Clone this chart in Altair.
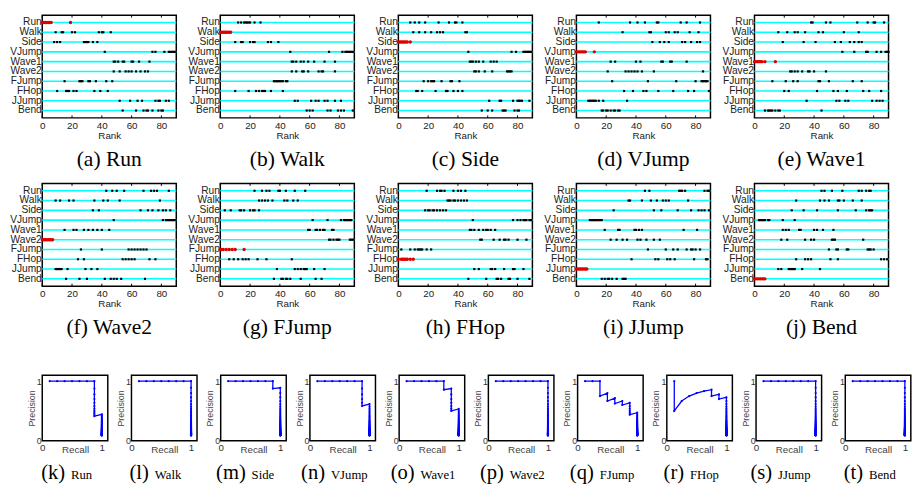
import altair as alt
import pandas as pd

CATS = ["Run", "Walk", "Side", "VJump", "Wave1", "Wave2", "FJump", "FHop", "JJump", "Bend"]
TOP_TAGS = ["(a)", "(b)", "(c)", "(d)", "(e)", "(f)", "(g)", "(h)", "(i)", "(j)"]
PR_TAGS = ["(k)", "(l)", "(m)", "(n)", "(o)", "(p)", "(q)", "(r)", "(s)", "(t)"]
X_TICKS = [0, 20, 40, 60, 80]
PR_TICKS = [0, 1]
N_RETRIEVED = 89
N_RELEVANT = 8

# rank positions per category row (Run .. Bend) for each query class
RANK_RUN = [
    [0, 1, 2, 3, 4, 5, 6, 19],
    [9, 13, 14, 20, 22, 38, 40, 41, 46],
    [8, 10, 12, 28, 29, 30, 31, 34, 37],
    [42, 74, 76, 82, 85, 86, 87, 88, 89],
    [48, 49, 51, 54, 55, 60, 61, 65, 72],
    [48, 52, 56, 58, 60, 63, 66, 69, 71],
    [15, 25, 26, 27, 31, 32, 36, 43, 47],
    [10, 16, 17, 18, 21, 23, 35, 39, 44],
    [52, 59, 64, 67, 76, 78, 79, 83, 85],
    [54, 63, 68, 70, 71, 74, 78, 80, 81],
]
RANK_WALK = [
    [12, 14, 16, 17, 18, 19, 20, 23, 27],
    [0, 1, 2, 3, 4, 5, 6, 7],
    [10, 14, 15, 20, 22, 23, 32, 34, 39],
    [47, 73, 82, 84, 85, 86, 87, 88, 89],
    [48, 49, 51, 54, 56, 59, 63, 70, 77],
    [48, 51, 55, 56, 59, 66, 68, 69, 77],
    [36, 37, 38, 39, 40, 41, 42, 44, 45],
    [10, 19, 24, 26, 28, 29, 30, 34, 42],
    [50, 52, 61, 64, 66, 70, 72, 77, 81],
    [58, 60, 62, 72, 74, 79, 81, 83, 89],
]
RANK_SIDE = [
    [8, 11, 14, 18, 27, 34, 38, 39, 43],
    [10, 14, 18, 22, 26, 28, 30, 45, 46],
    [0, 1, 2, 3, 4, 5, 6, 8],
    [47, 76, 79, 84, 85, 86, 87, 88, 89],
    [48, 49, 50, 52, 54, 57, 62, 64, 66],
    [51, 52, 54, 58, 63, 73, 74, 75, 76],
    [17, 20, 22, 23, 24, 29, 35, 36, 41],
    [12, 13, 16, 25, 32, 33, 37, 40, 43],
    [61, 68, 69, 77, 80, 81, 82, 83, 88],
    [56, 60, 63, 70, 71, 72, 78, 80, 81],
]
RANK_VJUMP = [
    [15, 36, 41, 46, 54, 55, 70, 74, 83],
    [31, 49, 50, 60, 62, 66, 68, 76, 82],
    [51, 56, 59, 62, 71, 73, 77, 81, 83],
    [0, 1, 2, 3, 4, 5, 6, 12],
    [23, 26, 40, 43, 57, 58, 63, 64, 74],
    [21, 33, 35, 37, 39, 41, 44, 52, 85],
    [24, 48, 67, 80, 84, 85, 86, 87, 88],
    [32, 38, 45, 47, 55, 65, 75, 79, 89],
    [8, 9, 10, 11, 12, 13, 15, 18, 34],
    [17, 18, 20, 21, 23, 25, 26, 28, 29],
]
RANK_WAVE1 = [
    [38, 39, 48, 51, 69, 76, 80, 81, 87],
    [16, 22, 27, 29, 34, 43, 46, 60, 70],
    [19, 33, 41, 54, 58, 64, 67, 70, 72],
    [59, 67, 75, 76, 82, 85, 88, 89, 90],
    [0, 1, 2, 3, 4, 5, 7, 14],
    [24, 25, 27, 29, 32, 36, 37, 40, 48],
    [12, 21, 26, 29, 43, 44, 50, 66, 72],
    [20, 23, 42, 53, 56, 62, 73, 77, 85],
    [35, 55, 57, 61, 63, 79, 82, 84, 86],
    [7, 9, 10, 11, 12, 14, 16, 17, 45],
]
RANK_WAVE2 = [
    [43, 47, 50, 55, 68, 73, 75, 77, 85],
    [9, 12, 18, 21, 35, 41, 44, 52, 79],
    [34, 38, 66, 71, 74, 78, 81, 83, 86],
    [48, 81, 83, 84, 85, 86, 87, 88, 89],
    [15, 21, 23, 28, 31, 34, 37, 40, 45],
    [0, 1, 2, 3, 4, 5, 6, 7],
    [26, 40, 58, 60, 62, 64, 66, 68, 70],
    [24, 28, 54, 56, 58, 60, 62, 72, 76],
    [9, 10, 11, 12, 13, 17, 29, 33, 37],
    [16, 25, 30, 42, 46, 48, 50, 53, 69],
]
RANK_FJUMP = [
    [23, 28, 31, 33, 39, 40, 44, 50, 57],
    [26, 28, 30, 32, 35, 43, 45, 49, 52],
    [3, 7, 13, 14, 16, 20, 22, 23, 26],
    [62, 72, 81, 83, 84, 85, 86, 87, 88],
    [59, 60, 64, 65, 67, 69, 70, 75, 76],
    [73, 74, 76, 78, 79, 80, 87, 88, 89],
    [0, 1, 2, 4, 6, 8, 10, 16],
    [6, 9, 12, 15, 17, 19, 25, 31, 48],
    [38, 50, 52, 54, 56, 57, 58, 63, 70],
    [36, 41, 42, 44, 45, 47, 54, 64, 68],
]
RANK_FHOP = [
    [19, 26, 28, 29, 31, 37, 40, 42, 45],
    [33, 34, 35, 37, 38, 40, 42, 44, 46],
    [18, 20, 21, 23, 24, 26, 28, 30, 32],
    [50, 77, 80, 82, 84, 85, 86, 88, 89],
    [48, 49, 51, 54, 57, 59, 60, 62, 65],
    [55, 56, 64, 68, 71, 72, 74, 80, 86],
    [2, 8, 11, 13, 14, 15, 16, 19, 22],
    [0, 2, 3, 4, 5, 6, 8, 10],
    [51, 54, 62, 63, 65, 71, 77, 78, 84],
    [47, 59, 66, 67, 69, 74, 75, 80, 88],
]
RANK_JJUMP = [
    [46, 49, 69, 70, 71, 73, 86, 88, 89],
    [35, 36, 44, 50, 54, 58, 60, 62, 75],
    [25, 52, 57, 68, 77, 82, 84, 86, 89],
    [9, 10, 11, 12, 13, 14, 15, 16, 17],
    [19, 28, 29, 39, 40, 42, 44, 72, 81],
    [23, 27, 31, 34, 41, 43, 47, 52, 56],
    [48, 60, 65, 68, 74, 77, 78, 80, 83],
    [37, 53, 55, 61, 63, 66, 79, 87, 88],
    [0, 1, 2, 3, 4, 5, 6, 7],
    [17, 19, 21, 22, 24, 27, 31, 32, 33],
]
RANK_BEND = [
    [45, 47, 52, 59, 70, 72, 75, 77, 78],
    [28, 44, 47, 50, 56, 57, 60, 66, 72],
    [25, 33, 42, 56, 68, 75, 77, 78, 79],
    [3, 4, 5, 6, 7, 9, 10, 19, 27],
    [19, 21, 23, 30, 31, 40, 42, 46, 53],
    [18, 22, 34, 38, 40, 52, 53, 54, 73],
    [50, 55, 56, 62, 63, 76, 77, 78, 80],
    [28, 34, 36, 38, 51, 56, 85, 87, 89],
    [16, 18, 23, 24, 25, 26, 27, 32, 44],
    [0, 1, 2, 3, 4, 5, 6, 7],
]
RANK_PANELS = [RANK_RUN, RANK_WALK, RANK_SIDE, RANK_VJUMP, RANK_WAVE1,
               RANK_WAVE2, RANK_FJUMP, RANK_FHOP, RANK_JJUMP, RANK_BEND]

# ranks (1-based) at which a relevant item is retrieved, per query class
HITS_RUN = [1, 2, 3, 4, 5, 6, 7, 18]
HITS_WALK = [1, 2, 3, 4, 5, 6, 7, 8]
HITS_SIDE = [1, 2, 3, 4, 5, 6, 7, 9]
HITS_VJUMP = [1, 2, 3, 4, 5, 6, 7, 13]
HITS_WAVE1 = [1, 2, 3, 4, 5, 6, 8, 15]
HITS_WAVE2 = [1, 2, 3, 4, 5, 6, 7, 8]
HITS_FJUMP = [1, 2, 3, 5, 7, 9, 11, 17]
HITS_FHOP = [1, 3, 4, 5, 6, 7, 9, 11]
HITS_JJUMP = [1, 2, 3, 4, 5, 6, 7, 8]
HITS_BEND = [1, 2, 3, 4, 5, 6, 7, 8]
PR_HITS = [HITS_RUN, HITS_WALK, HITS_SIDE, HITS_VJUMP, HITS_WAVE1,
           HITS_WAVE2, HITS_FJUMP, HITS_FHOP, HITS_JJUMP, HITS_BEND]

SANS = "Liberation Sans"
SERIF = "Liberation Serif"
RW, RH = 137, 105
PW, PH = 67, 67

# Times / Liberation Serif advance widths (per 1000 em) for caption layout
TIMES_W = {" ": 250, "(": 333, ")": 333, "a": 444, "b": 500, "c": 444, "d": 500, "e": 444,
           "f": 333, "g": 500, "h": 500, "i": 278, "j": 278, "k": 500, "l": 278, "m": 778,
           "n": 500, "o": 500, "p": 500, "q": 500, "r": 333, "s": 389, "t": 278, "u": 500,
           "v": 500, "w": 722, "R": 667, "W": 944, "S": 556, "V": 722, "J": 389, "F": 556,
           "H": 722, "B": 667, "1": 500, "2": 500}


def tw(s, size):
    return sum(TIMES_W.get(c, 500) for c in s) * size / 1000.0


def rank_panel(i):
    recs = []
    for ci, ranks in enumerate(RANK_PANELS[i]):
        for r in ranks:
            recs.append({"cat": CATS[ci], "rank": r, "isq": ci == i})
    df = pd.DataFrame(recs)
    xs = alt.Scale(domain=[0, 90], nice=False, zero=False)
    ys = alt.Scale(domain=CATS, padding=0.5)
    xax = alt.Axis(values=X_TICKS, title="Rank", ticks=False, domain=False, grid=False,
                   labelFont=SANS, labelFontSize=10, labelColor="#222", labelPadding=3,
                   labelFlush=False,
                   titleFont=SANS, titleFontSize=10, titleFontWeight="normal", titleColor="#222",
                   titleY=13, titleBaseline="top")
    yax = alt.Axis(title=None, ticks=False, domain=False, grid=False,
                   labelFont=SANS, labelFontSize=10.4, labelColor="#222", labelPadding=1)
    Y = alt.Y("cat:N", scale=ys, sort=CATS, axis=yax)
    lines = alt.Chart(pd.DataFrame({"cat": CATS})).mark_rule(
        color="#00ffff", strokeWidth=1.6).encode(y=Y)
    tdf = pd.DataFrame({"t": X_TICKS})
    ticks_top = alt.Chart(tdf).mark_rule(color="black", strokeWidth=1).encode(
        x=alt.X("t:Q", scale=xs, axis=xax), y=alt.value(0), y2=alt.value(2.5))
    ticks_bot = alt.Chart(tdf).mark_rule(color="black", strokeWidth=1).encode(
        x=alt.X("t:Q", scale=xs, axis=xax), y=alt.value(RH - 2.5), y2=alt.value(RH))
    black = alt.Chart(df[~df["isq"]]).mark_square(size=5, color="black", opacity=1).encode(
        x=alt.X("rank:Q", scale=xs, axis=xax), y=Y)
    red = alt.Chart(df[df["isq"]]).mark_circle(size=12, color="#e00000", opacity=1).encode(
        x=alt.X("rank:Q", scale=xs, axis=xax), y=Y)
    return alt.layer(lines, ticks_top, ticks_bot, black, red).properties(
        width=RW, height=RH,
        title=alt.TitleParams(text=f"{TOP_TAGS[i]} {CATS[i]}", orient="bottom", font=SERIF,
                              fontSize=22, fontWeight="normal", color="black", offset=9,
                              baseline="top"))


def pr_panel(i):
    hits = set(PR_HITS[i])
    recs = []
    h = 0
    for r in range(1, N_RETRIEVED + 1):
        if r in hits:
            h += 1
        recs.append({"r": r, "recall": h / N_RELEVANT, "precision": h / r})
    df = pd.DataFrame(recs)
    sc = alt.Scale(domain=[0, 1.1], nice=False, zero=False)
    xax = alt.Axis(values=PR_TICKS, format="d", title="Recall", ticks=False, domain=False,
                   grid=False, labelFont=SANS, labelFontSize=10, labelColor="#333",
                   labelPadding=2, labelFlush=False,
                   titleFont=SANS, titleFontSize=10, titleFontWeight="normal", titleColor="#444",
                   titleY=4, titleBaseline="top")
    yax = alt.Axis(values=PR_TICKS, format="d", title="Precision", ticks=False, domain=False,
                   grid=False, labelFont=SANS, labelFontSize=9, labelColor="#333",
                   labelPadding=1, labelFlush=False,
                   titleFont=SANS, titleFontSize=9, titleFontWeight="normal", titleColor="#444",
                   titlePadding=0)
    line = alt.Chart(df).mark_line(
        color="#0000ff", strokeWidth=1.3,
        point=alt.OverlayMarkDef(filled=True, size=5, color="#0000ff")).encode(
        x=alt.X("recall:Q", scale=sc, axis=xax),
        y=alt.Y("precision:Q", scale=sc, axis=yax),
        order="r:Q")
    tag = PR_TAGS[i]
    name = CATS[i]
    wt, wn, gap = tw(tag, 21), tw(name, 13), 6
    start = 25 - (wt + gap + wn) / 2
    tag_mark = alt.Chart(pd.DataFrame({"s": [tag]})).mark_text(
        font=SERIF, fontSize=21, align="left", baseline="alphabetic", color="black").encode(
        text="s:N", x=alt.value(start), y=alt.value(106))
    name_mark = alt.Chart(pd.DataFrame({"s": [name]})).mark_text(
        font=SERIF, fontSize=13, align="left", baseline="alphabetic", color="black").encode(
        text="s:N", x=alt.value(start + wt + gap), y=alt.value(106))
    return alt.layer(line, tag_mark, name_mark).properties(width=PW, height=PH)


top = alt.concat(*[rank_panel(i) for i in range(10)], columns=5,
                 spacing=alt.RowColnumber(row=67, column=45), bounds="flush")
bottom = alt.hconcat(*[pr_panel(i) for i in range(10)], spacing=24.2, bounds="flush")

chart = alt.vconcat(top, bottom, spacing=36).properties(padding=0).configure_view(
    stroke="black", strokeWidth=1.5)

chart.save("out.html", embed_options={"renderer": "svg", "actions": False})
